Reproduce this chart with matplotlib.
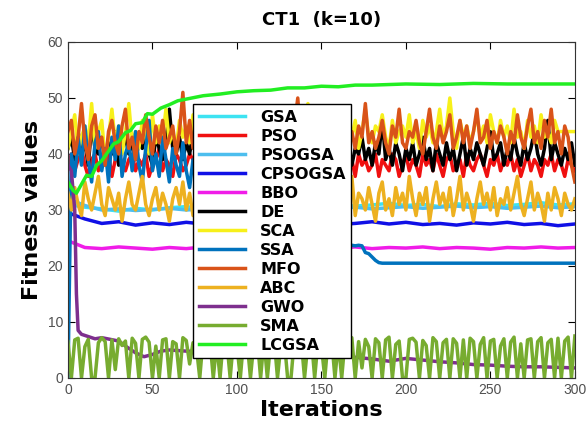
import numpy as np
import matplotlib
matplotlib.use("Agg")
from matplotlib import pyplot as plt

# iteration grids
it2 = np.arange(0, 301, 2)      # noisy series, every 2nd iteration
it10 = np.arange(0, 301, 10)    # nearly flat series

# nearly flat series (read every 10 iterations)
gsa = [31.0, 30.5, 30.2, 29.8, 30.3, 30.0, 30.4, 30.6, 30.2, 30.5, 30.8, 30.4, 30.7, 30.9, 30.5, 30.8,
       31.0, 30.7, 30.9, 31.2, 30.8, 31.0, 30.6, 31.1, 30.9, 31.2, 30.8, 31.0, 31.3, 30.9, 31.1]
psogsa = [32.0, 30.8, 30.0, 30.2, 29.9, 30.1, 30.3, 30.0, 30.2, 30.4, 30.1, 30.3, 30.5, 30.2, 30.4, 30.6,
          30.3, 30.5, 30.2, 30.4, 30.6, 30.3, 30.5, 30.7, 30.4, 30.6, 30.3, 30.5, 30.7, 30.4, 30.6]
cpsogsa = [29.5, 28.4, 27.6, 27.9, 27.3, 27.7, 27.4, 27.8, 27.5, 27.2, 27.6, 27.4, 27.8, 27.5, 27.3, 27.7,
           27.4, 27.6, 27.9, 27.5, 27.8, 27.4, 27.6, 27.3, 27.7, 27.5, 27.8, 27.4, 27.6, 27.2, 27.5]
bbo = [24.5, 23.3, 23.1, 23.4, 23.2, 23.0, 23.3, 23.1, 23.4, 23.2, 23.3, 23.1, 23.4, 23.2, 23.0, 23.3,
       23.2, 23.4, 23.1, 23.3, 23.2, 23.4, 23.1, 23.3, 23.2, 23.0, 23.3, 23.2, 23.4, 23.2, 23.3]

# noisy series (read every 2 iterations)
pso = [38, 40, 37, 39, 41, 38, 36, 39, 40, 37,  39, 38, 40, 36, 39, 41, 38, 37, 39, 40,
       37, 39, 38, 40, 36, 38, 39, 41, 37, 39,  38, 36, 40, 39, 37, 38, 40, 39, 36, 38,
       40, 37, 39, 38, 41, 36, 39, 38, 40, 37,  39, 40, 37, 38, 36, 39, 40, 38, 37, 39,
       38, 36, 39, 40, 37, 39, 38, 41, 37, 38,  40, 38, 36, 39, 38, 40, 37, 39, 38, 36,
       39, 40, 38, 37, 39, 36, 40, 38, 39, 37,  38, 40, 36, 39, 38, 37, 40, 39, 36, 38,
       40, 37, 39, 38, 36, 40, 38, 39, 37, 40,  38, 36, 39, 40, 37, 38, 39, 36, 40, 38,
       37, 39, 40, 38, 36, 39, 38, 40, 37, 39,  38, 40, 37, 39, 36, 38, 40, 37, 39, 38,
       36, 39, 38, 40, 37, 39, 38, 36, 39, 38,  37]
de = [41, 43, 39, 44, 40, 42, 38, 45, 41, 40,  43, 39, 42, 40, 44, 38, 41, 43, 40, 42,
      39, 42, 41, 44, 40, 38, 43, 41, 39, 42,  48, 41, 40, 43, 39, 42, 40, 44, 41, 39,
      42, 40, 43, 38, 41, 42, 39, 44, 40, 41,  43, 39, 41, 40, 42, 38, 43, 41, 40, 42,
      39, 41, 43, 40, 38, 42, 41, 44, 39, 40,  42, 38, 41, 43, 40, 39, 42, 41, 38, 43,
      40, 41, 39, 42, 38, 41, 40, 43, 39, 41,  38, 42, 40, 46, 39, 41, 38, 42, 40, 37,
      41, 39, 42, 38, 40, 43, 39, 41, 37, 42,  40, 38, 42, 39, 41, 37, 40, 43, 38, 41,
      39, 42, 40, 38, 41, 44, 39, 40, 42, 38,  41, 39, 43, 40, 38, 42, 39, 41, 44, 40,
      38, 41, 46, 39, 42, 40, 38, 41, 39, 42,  38]
sca = [41, 44, 47, 40, 43, 45, 42, 49, 41, 44,  46, 39, 43, 48, 42, 45, 40, 44, 49, 42,
       44, 41, 46, 43, 40, 47, 42, 45, 43, 48,  42, 44, 41, 46, 43, 45, 42, 47, 44, 41,
       45, 43, 48, 42, 44, 41, 46, 43, 45, 42,  44, 47, 42, 43, 45, 41, 44, 46, 42, 43,
       45, 42, 44, 48, 43, 41, 45, 44, 42, 46,  43, 49, 42, 44, 45, 41, 43, 46, 44, 42,
       44, 47, 42, 45, 43, 46, 41, 44, 48, 43,  42, 45, 44, 47, 43, 41, 46, 42, 44, 45,
       43, 47, 42, 44, 41, 46, 43, 45, 42, 44,  48, 43, 45, 50, 44, 41, 46, 43, 45, 42,
       44, 47, 43, 45, 42, 47, 44, 42, 46, 43,  45, 42, 48, 43, 44, 41, 46, 43, 45, 42,
       47, 43, 44, 42, 46, 44, 44, 44, 44, 44,  44]
ssa = ([0, 40, 36, 43, 38, 45, 39, 35, 42, 44,  37, 41, 35, 43, 39, 45, 36, 40, 42, 37,
        44, 38, 35, 41, 46, 37, 40, 36, 43, 39,  35, 41, 38, 36, 42, 37, 34, 39, 36, 35,
        37, 34, 36, 33, 35, 32, 34, 31, 33, 32,  30, 32, 29, 31, 30, 28, 29, 28, 27, 28,
        26.5, 27, 26, 26.5, 25.5, 26, 25, 25.5, 24.5, 25,
        24.5, 24.2, 24.4, 24.0, 24.1, 23.9, 24.0, 23.8, 23.9, 23.8,
        23.8, 23.7, 23.8, 23.7, 23.7, 23.6, 23.7, 23.6, 22.4, 22.2,
        21.6, 21.0, 20.6] + [20.5] * 58)
mfo = [44, 46, 40, 43, 49, 42, 39, 45, 47, 41,  43, 38, 44, 46, 42, 40, 45, 48, 41, 43,
       39, 44, 42, 47, 43, 40, 45, 42, 46, 41,  43, 45, 40, 44, 51, 42, 46, 41, 44, 43,
       47, 42, 40, 45, 43, 48, 41, 44, 42, 46,  40, 43, 45, 42, 47, 41, 44, 39, 46, 43,
       42, 48, 41, 44, 43, 46, 40, 45, 50, 42,  44, 41, 46, 43, 40, 45, 42, 47, 41, 44,
       43, 40, 46, 42, 44, 41, 45, 43, 49, 42,  44, 41, 43, 46, 42, 40, 45, 43, 48, 42,
       41, 44, 43, 46, 42, 40, 44, 48, 43, 41,  45, 42, 44, 47, 41, 43, 46, 42, 45, 41,
       44, 48, 42, 43, 46, 41, 44, 42, 45, 43,  40, 44, 42, 47, 43, 41, 45, 48, 42, 44,
       41, 46, 43, 48, 42, 44, 40, 45, 43, 38,  35]
abc = [33, 30, 34, 31, 29, 35, 32, 30, 33, 36,  31, 29, 34, 32, 30, 33, 28, 32, 35, 31,
       30, 33, 36, 31, 29, 32, 34, 30, 33, 31,  28, 32, 34, 31, 35, 30, 33, 29, 32, 36,
       31, 33, 30, 34, 32, 28, 31, 35, 30, 33,  32, 29, 34, 31, 36, 30, 33, 31, 29, 34,
       31, 35, 30, 32, 28, 33, 31, 34, 30, 32,  36, 31, 29, 33, 32, 30, 35, 31, 33, 29,
       32, 34, 30, 31, 36, 29, 33, 32, 30, 34,  31, 28, 33, 35, 30, 32, 29, 34, 31, 33,
       30, 36, 32, 29, 33, 31, 34, 28, 32, 35,  31, 33, 30, 34, 29, 32, 36, 30, 33, 31,
       28, 32, 35, 31, 33, 30, 34, 29, 32, 31,  34, 30, 33, 36, 31, 29, 32, 35, 30, 33,
       31, 28, 33, 30, 34, 32, 29, 33, 31, 30,  32]
sma = [6.5, 0, 6.8, 7.1, 0, 5.6, 6.9, 0, 0, 6.3,  7.2, 6.5, 0, 6.8, 1.5, 7.0, 5.8, 6.6, 0, 7.1,
       6.2, 0, 6.9, 7.3, 6.4, 0, 5.7, 0, 6.8, 7.0,  0, 6.5, 6.1, 0, 7.2, 6.7, 2.5, 6.3, 5.5, 0,
       7.1, 6.4, 6.8, 0, 6.2, 0, 7.3, 6.5, 0, 6.9,  5.8, 0, 7.0, 6.6, 0, 6.3, 7.2, 0, 6.7, 0,
       6.5, 7.1, 0, 5.9, 6.8, 0, 0, 7.0, 6.4, 6.9,  0, 6.2, 7.3, 0, 6.6, 5.7, 0, 6.9, 7.1, 0,
       6.4, 0, 6.8, 6.1, 7.2, 0, 6.5, 1.8, 6.9, 5.6,  0, 7.0, 6.3, 0, 6.8, 7.3, 0, 6.0, 6.6, 0,
       0, 6.9, 7.1, 6.4, 0, 6.7, 5.8, 0, 7.2, 6.5,  0, 6.3, 6.9, 0, 7.0, 6.2, 0, 6.8, 0, 7.1,
       6.5, 0, 6.0, 7.2, 0, 6.6, 6.9, 0, 5.7, 7.0,  0, 6.4, 7.3, 0, 6.1, 0, 6.8, 7.0, 0, 6.5,
       7.2, 0, 6.3, 6.9, 0, 7.1, 0, 6.6, 7.3, 0,  7.5]

# smooth convergence curves
gwo_it = [0, 2, 4, 5, 6, 8, 12, 16, 20, 25, 30, 35, 40, 45, 50, 55, 60, 70, 100, 130, 160, 170, 180,
          190, 200, 210, 220, 230, 240, 250, 260, 270, 280, 290, 300]
gwo = [38, 37, 30, 15, 8.5, 7.8, 7.4, 7.0, 7.2, 6.9, 6.6, 5.5, 4.5, 3.8, 4.2, 4.8, 5.0, 4.8, 4.5, 4.0,
       3.8, 3.7, 3.4, 3.0, 3.5, 3.2, 2.9, 2.7, 2.4, 2.3, 2.1, 2.0, 2.0, 1.9, 1.8]
lcgsa_it = [0, 3, 5, 8, 11, 14, 17, 20, 24, 27, 30, 34, 37, 40, 44, 47, 50, 55, 60, 65, 70, 80, 90, 100,
            110, 120, 130, 140, 150, 160, 170, 180, 200, 220, 240, 260, 280, 300]
lcgsa = [35, 33.5, 33.0, 34.6, 36.2, 36.0, 38.0, 38.8, 40.5, 41.8, 42.2, 43.8, 44.2, 45.4, 45.6, 47.2, 47.1,
         48.2, 48.8, 49.5, 49.8, 50.4, 50.7, 51.1, 51.3, 51.4, 51.8, 51.8, 52.1, 52.0, 52.3, 52.3, 52.5,
         52.4, 52.6, 52.5, 52.5, 52.5]

plt.rcParams['font.family'] = ['Liberation Sans', 'DejaVu Sans']

fig = plt.figure(figsize=(5.86, 4.24), dpi=100)
ax = fig.add_axes([0.116, 0.1085, 0.865, 0.7925])

lw = 2.5
ax.plot(it10, gsa, color='#3DE3F2', lw=lw, label='GSA')
ax.plot(it2, pso, color='#F01010', lw=lw, label='PSO')
ax.plot(it10, psogsa, color='#4DBEEE', lw=lw, label='PSOGSA')
ax.plot(it10, cpsogsa, color='#1010E6', lw=lw, label='CPSOGSA')
ax.plot(it10, bbo, color='#F01CE8', lw=lw, label='BBO')
ax.plot(it2, de, color='black', lw=lw, label='DE')
ax.plot(it2, sca, color='#F7F01A', lw=lw, label='SCA')
ax.plot(it2, ssa, color='#0072BD', lw=lw, label='SSA')
ax.plot(it2, mfo, color='#D95319', lw=lw, label='MFO')
ax.plot(it2, abc, color='#EDB120', lw=lw, label='ABC')
ax.plot(gwo_it, gwo, color='#7E2F8E', lw=lw, label='GWO')
ax.plot(it2, sma, color='#77AC30', lw=lw, label='SMA')
ax.plot(lcgsa_it, lcgsa, color='#22EE22', lw=lw, label='LCGSA')

ax.set_xlim(0, 300)
ax.set_ylim(0, 60)
ax.set_xticks(range(0, 301, 50))
ax.set_yticks(range(0, 61, 10))
ax.tick_params(direction='in', top=True, right=True, length=5, labelsize=10, labelcolor='#505050')
for s in ax.spines.values():
    s.set_color('#333333')

bold = {'family': 'DejaVu Sans', 'weight': 'bold'}
ax.set_title('CT1  (k=10)', fontsize=13, pad=12, **bold)
ax.set_xlabel('Iterations', fontsize=16, labelpad=2, **bold)
ax.set_ylabel('Fitness values', fontsize=16, labelpad=4, **bold)

leg = ax.legend(loc='upper left', bbox_to_anchor=(0.2465, 0.815), borderaxespad=0,
                prop={'family': 'DejaVu Sans', 'weight': 'bold', 'size': 11.5},
                handlelength=2.9, handletextpad=0.95, labelspacing=0.25,
                fancybox=False, framealpha=1, edgecolor='black', borderpad=0.35)
leg.get_frame().set_linewidth(1.0)

plt.savefig('out.png', dpi=100)
